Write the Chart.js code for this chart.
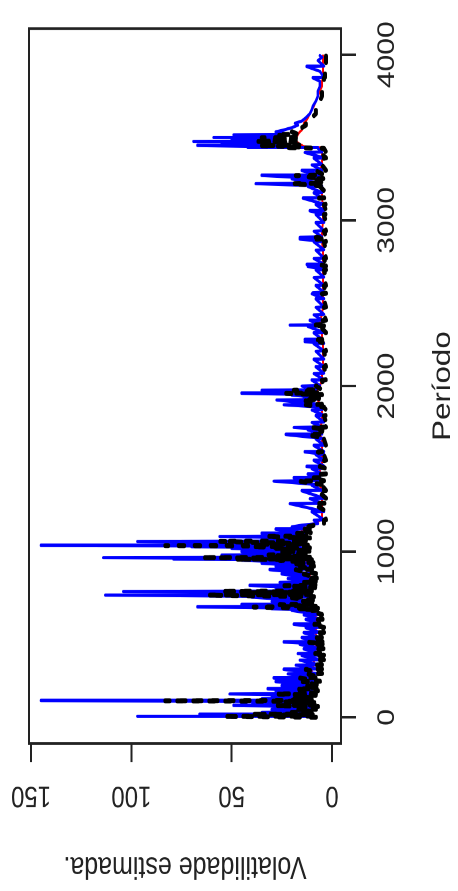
<!DOCTYPE html>
<html>
<head>
<meta charset="utf-8">
<script src="https://cdn.jsdelivr.net/npm/chart.js@4"></script>
<style>
  body { margin: 0; background: #fff; overflow: hidden; }
  /* R plot was drawn landscape, the picture is turned a quarter left and stretched a bit */
  #wrap {
    position: absolute; left: 0; top: 0;
    width: 713px; height: 458px;
    transform-origin: 0 0;
    transform: translateY(891px) rotate(-90deg) scaleX(1.25);
  }
</style>
</head>
<body>
<div id="wrap"><canvas id="volChart" width="713" height="458"></canvas></div>
<script>
const periodTicks = [0, 1000, 2000, 3000, 4000];
const volTicks = [0, 50, 100, 150];

const periods = [
  1, 5, 8, 14, 16, 18, 21, 30, 33, 46,
  49, 62, 65, 71, 74, 86, 89, 93, 96, 100,
  103, 112, 115, 130, 133, 141, 144, 158, 161, 171,
  174, 190, 193, 215, 218, 237, 240, 262, 265, 289,
  292, 315, 318, 345, 348, 372, 375, 385, 388, 412,
  415, 440, 443, 454, 457, 480, 483, 510, 513, 540,
  543, 561, 564, 590, 593, 618, 621, 645, 648, 655,
  658, 666, 669, 680, 683, 700, 703, 725, 728, 738,
  741, 752, 755, 760, 763, 780, 783, 795, 798, 815,
  818, 838, 841, 865, 868, 891, 894, 910, 913, 930,
  933, 948, 951, 955, 958, 964, 967, 980, 983, 1000,
  1003, 1020, 1023, 1030, 1033, 1037, 1040, 1045, 1048, 1062,
  1065, 1080, 1083, 1092, 1095, 1110, 1113, 1135, 1138, 1150,
  1160, 1170, 1190, 1193, 1240, 1243, 1290, 1293, 1320, 1323,
  1367, 1370, 1400, 1403, 1426, 1429, 1445, 1448, 1467, 1470,
  1500, 1503, 1514, 1517, 1550, 1553, 1585, 1588, 1602, 1605,
  1640, 1643, 1680, 1683, 1707, 1710, 1735, 1738, 1750, 1753,
  1780, 1783, 1820, 1823, 1855, 1858, 1870, 1873, 1887, 1890,
  1916, 1919, 1930, 1933, 1945, 1948, 1956, 1959, 1975, 1978,
  2000, 2003, 2035, 2038, 2075, 2078, 2115, 2118, 2160, 2163,
  2210, 2213, 2255, 2258, 2268, 2271, 2280, 2283, 2320, 2323,
  2360, 2363, 2368, 2371, 2395, 2398, 2430, 2433, 2475, 2478,
  2525, 2528, 2557, 2560, 2564, 2567, 2605, 2608, 2655, 2658,
  2700, 2703, 2722, 2725, 2733, 2736, 2770, 2773, 2820, 2823,
  2870, 2873, 2887, 2890, 2898, 2901, 2935, 2938, 2985, 2988,
  3035, 3038, 3057, 3060, 3095, 3098, 3134, 3137, 3165, 3168,
  3205, 3208, 3222, 3225, 3250, 3253, 3271, 3274, 3300, 3303,
  3335, 3338, 3375, 3378, 3410, 3413, 3435, 3440, 3443, 3452,
  3455, 3470, 3473, 3477, 3480, 3492, 3495, 3499, 3502, 3517,
  3520, 3535, 3546, 3560, 3575, 3587, 3600, 3620, 3645, 3670,
  3690, 3720, 3750, 3782, 3810, 3840, 3860, 3863, 3900, 3929,
  3932, 3965, 3985, 3995
];

// blue: spiky estimate
const blueVol = [
  12, 97, 14, 40, 12, 66, 13, 35, 10, 30,
  11, 28, 10, 49, 12, 30, 12, 40, 13, 145,
  15, 35, 12, 30, 11, 51, 12, 28, 10, 32,
  10, 25, 9, 28, 9, 29, 8, 22, 8, 24,
  7, 18, 7, 16, 6, 15, 6, 17, 6, 14,
  6, 16, 6, 24, 6, 15, 6, 14, 6, 13,
  6, 19, 6, 13, 6, 14, 7, 20, 9, 30,
  10, 67, 12, 45, 12, 30, 11, 40, 12, 113,
  14, 70, 14, 104, 14, 28, 11, 41, 11, 26,
  10, 22, 10, 25, 11, 31, 12, 28, 12, 35,
  13, 45, 14, 79, 14, 114, 15, 55, 15, 45,
  14, 50, 15, 70, 16, 145, 16, 60, 16, 97,
  16, 35, 15, 56, 15, 35, 14, 28, 12, 20,
  15, 7, 9, 4, 10, 4, 21, 5, 11, 4,
  15, 5, 10, 5, 29, 6, 19, 6, 12, 5,
  10, 5, 12.6, 4, 9, 4, 8, 4, 13.5, 4,
  9, 4, 8, 4, 23, 5, 12, 5, 19, 5,
  10, 4, 8, 4, 10, 5, 8, 6, 24, 7,
  27.6, 8, 14, 8, 20, 8, 45, 9, 35, 8,
  15, 6, 10, 4, 9, 4, 8, 4, 9, 4,
  8, 4, 9, 4, 13.5, 5, 13.5, 5, 9, 4,
  12, 5, 21, 5, 11, 5, 9, 4, 8, 4,
  8, 4, 10, 4, 9.5, 4, 8, 4, 9, 4,
  8, 4, 12, 4, 12.5, 4, 9, 4, 8, 4,
  9, 4, 16, 5, 16, 5, 9, 4, 8, 4,
  8, 4, 11, 4, 8, 4, 14.4, 5, 9, 5,
  12, 5, 38, 6, 20, 6, 35, 6, 15, 5,
  10, 5, 9, 4, 13.5, 5, 7, 42, 20, 67,
  22, 55, 24, 69, 25, 50, 24, 59, 24, 49,
  22, 28, 24, 20, 17, 18.4, 15, 13, 11, 10,
  9.5, 8, 7, 7, 6, 6, 9.5, 4, 6, 12.6,
  4, 7, 5, 6
];

// black: dashed estimate
const blackVol = [
  8, 54, 10, 24, 9, 40, 9, 20, 8, 18,
  8, 16, 7, 28, 8, 18, 8, 24, 9, 83,
  10, 20, 9, 17, 8, 28, 8, 16, 7, 18,
  7, 14, 6, 15, 6, 16, 6, 12, 5, 13,
  5, 9, 5, 8, 4, 8, 4, 9, 4, 7,
  4, 8, 4, 12, 4, 8, 4, 7, 4, 7,
  4, 10, 4, 7, 4, 7, 5, 11, 6, 17,
  7, 39, 8, 26, 8, 17, 8, 22, 9, 62,
  10, 40, 10, 55, 10, 16, 8, 24, 8, 15,
  7, 13, 7, 14, 8, 18, 9, 16, 9, 20,
  9, 26, 10, 48, 10, 65, 11, 32, 11, 26,
  10, 29, 11, 40, 12, 83, 12, 35, 12, 56,
  12, 20, 11, 33, 11, 20, 10, 16, 9, 12,
  9, 4, 4, 3, 4, 3, 9, 3, 5, 3,
  7, 3, 5, 3, 17, 4, 10, 4, 6, 3,
  5, 3, 6, 3, 4, 3, 4, 3, 7, 3,
  4, 3, 4, 3, 12, 3, 6, 3, 10, 3,
  5, 3, 4, 3, 5, 3, 4, 4, 13, 5,
  15, 5, 8, 5, 11, 5, 23, 6, 19, 5,
  8, 4, 5, 3, 4, 3, 4, 3, 4, 3,
  4, 3, 4, 3, 6, 3, 7, 3, 4, 3,
  6, 3, 10, 3, 5, 3, 4, 3, 4, 3,
  4, 3, 5, 3, 5, 3, 4, 3, 4, 3,
  4, 3, 6, 3, 6, 3, 4, 3, 4, 3,
  4, 3, 8, 3, 8, 3, 4, 3, 4, 3,
  4, 3, 5, 3, 4, 3, 7, 3, 4, 3,
  6, 3, 20, 4, 10, 4, 18, 4, 8, 3,
  5, 3, 4, 3, 6, 3, 4, 24, 15, 36,
  16, 33, 18, 38, 18, 30, 18, 35, 18, 28,
  17, 20, 17, 15, 13, 13, 11, 10, 8, 8,
  7, 6, 5, 5, 4, 4, 4, 3.5, 3.5, 4,
  3, 3, 3, 3
];

// red: smooth estimate
const redVol = [
  12, 13, 13, 13, 13, 13, 13, 13, 13, 13,
  13, 12, 12, 12, 12, 13, 13, 14, 14, 15,
  15, 15, 14, 14, 14, 14, 13, 13, 13, 12,
  12, 12, 12, 12, 11, 11, 11, 10, 10, 10,
  10, 9, 9, 9, 9, 9, 9, 9, 9, 8,
  8, 8, 8, 8, 8, 8, 8, 8, 8, 8,
  8, 8, 8, 8, 8, 8, 8, 9, 9, 10,
  10, 11, 11, 11, 11, 11, 11, 12, 12, 12,
  12, 13, 13, 13, 13, 12, 12, 12, 12, 12,
  12, 11, 11, 11, 11, 12, 12, 12, 12, 13,
  13, 13, 14, 14, 14, 14, 14, 15, 15, 15,
  15, 15, 15, 16, 16, 16, 16, 16, 16, 16,
  16, 16, 16, 16, 16, 15, 15, 15, 15, 14,
  14, 8, 6, 5, 5, 5, 5, 5, 5, 5,
  5, 5, 6, 6, 7, 7, 7, 7, 7, 6,
  6, 6, 6, 5, 5, 5, 5, 5, 5, 5,
  5, 5, 5, 5, 6, 6, 6, 6, 6, 6,
  5, 5, 5, 5, 5, 5, 6, 6, 6, 6,
  7, 7, 7, 7, 7, 7, 8, 8, 8, 7,
  7, 6, 5, 5, 5, 4.5, 4.5, 4.5, 4.5, 4.5,
  4.5, 4.5, 4.5, 4.5, 5, 5, 5, 5, 5, 5,
  5, 5, 6, 6, 6, 6, 5, 5, 4.5, 4.5,
  4.5, 4.5, 4.5, 4.5, 4.5, 4.5, 4.5, 4.5, 4.5, 4.5,
  4.5, 4.5, 4.5, 4.5, 4.5, 4.5, 4.5, 4.5, 4.5, 4.5,
  5, 5, 5, 5, 5, 5, 5, 5, 4.5, 4.5,
  4.5, 4.5, 4.5, 4.5, 4.5, 4.5, 5, 5, 5, 5,
  5, 5, 6, 6, 6, 6, 6, 6, 6, 6,
  5, 5, 5, 5, 5, 5, 5, 12, 13, 15,
  16, 17, 18, 18, 18, 18, 18, 18, 18, 17,
  17, 16, 15, 15, 14, 14, 13, 12, 11, 10,
  9, 8, 7, 6, 5, 5, 4.5, 4.5, 4.5, 4.5,
  4.5, 4.5, 4.5, 4.5
];

function points(vals) {
  return periods.map((p, i) => ({ x: p, y: vals[i] }));
}

const textColor = '#222';
Chart.defaults.font.family = '"Liberation Sans", Arial, sans-serif';
Chart.defaults.font.size = 24;
Chart.defaults.color = textColor;

// box around the plot region, like R's box()
const boxPlugin = {
  id: 'box',
  afterDraw(chart) {
    const { ctx, chartArea: a } = chart;
    ctx.save();
    ctx.strokeStyle = '#222';
    ctx.lineWidth = 2;
    ctx.strokeRect(a.left, a.top, a.right - a.left, a.bottom - a.top);
    ctx.restore();
  }
};

// y tick labels parallel to the axis (R las = 0)
const yLabelsPlugin = {
  id: 'yLabels',
  afterDraw(chart) {
    const { ctx } = chart;
    const yScale = chart.scales.y;
    ctx.save();
    ctx.fillStyle = textColor;
    ctx.font = '24px "Liberation Sans", Arial, sans-serif';
    ctx.textAlign = 'center';
    ctx.textBaseline = 'middle';
    volTicks.forEach(v => {
      ctx.save();
      ctx.translate(77, yScale.getPixelForValue(v));
      ctx.rotate(-Math.PI / 2);
      ctx.fillText(String(v), 0, 0);
      ctx.restore();
    });
    ctx.restore();
  }
};

const lineStyle = {
  pointRadius: 0,
  tension: 0,
  borderJoinStyle: 'round',
  borderCapStyle: 'round'
};

const ctx = document.getElementById('volChart').getContext('2d');

new Chart(ctx, {
  type: 'line',
  data: {
    datasets: [
      {
        ...lineStyle,
        label: 'preta',
        data: points(blackVol),
        borderColor: '#000',
        borderWidth: 4,
        borderDash: [5, 11],
        order: 1
      },
      {
        ...lineStyle,
        label: 'azul',
        data: points(blueVol),
        borderColor: '#0000ff',
        borderWidth: 2.5,
        order: 2
      },
      {
        ...lineStyle,
        label: 'vermelha',
        data: points(redVol),
        borderColor: '#ff0000',
        borderWidth: 2,
        order: 3
      }
    ]
  },
  options: {
    responsive: false,
    animation: false,
    devicePixelRatio: 2,
    layout: { padding: { top: 29, right: 9, left: 0, bottom: 0 } },
    plugins: {
      legend: { display: false },
      tooltip: { enabled: false }
    },
    scales: {
      x: {
        type: 'linear',
        min: -158,
        max: 4158,
        afterFit: s => { s.height = 117; },
        afterBuildTicks: s => { s.ticks = periodTicks.map(v => ({ value: v })); },
        border: { display: false },
        grid: {
          drawOnChartArea: false,
          drawTicks: true,
          tickLength: 15,
          tickWidth: 2,
          tickColor: '#222'
        },
        ticks: { padding: 17, maxRotation: 0, autoSkip: false, callback: v => String(v) },
        title: { display: true, text: 'Período', font: { size: 25 }, padding: { top: 0, bottom: 0 } }
      },
      y: {
        min: -4.5,
        max: 151,
        afterFit: s => { s.width = 118; },
        afterBuildTicks: s => { s.ticks = volTicks.map(v => ({ value: v })); },
        border: { display: false },
        grid: {
          drawOnChartArea: false,
          drawTicks: true,
          tickLength: 15,
          tickWidth: 2,
          tickColor: '#222'
        },
        ticks: { display: false },
        title: { display: true, text: 'Volatilidade estimada.', font: { size: 25 }, padding: { top: 5, bottom: 0 } }
      }
    }
  },
  plugins: [boxPlugin, yLabelsPlugin]
});
</script>
</body>
</html>
